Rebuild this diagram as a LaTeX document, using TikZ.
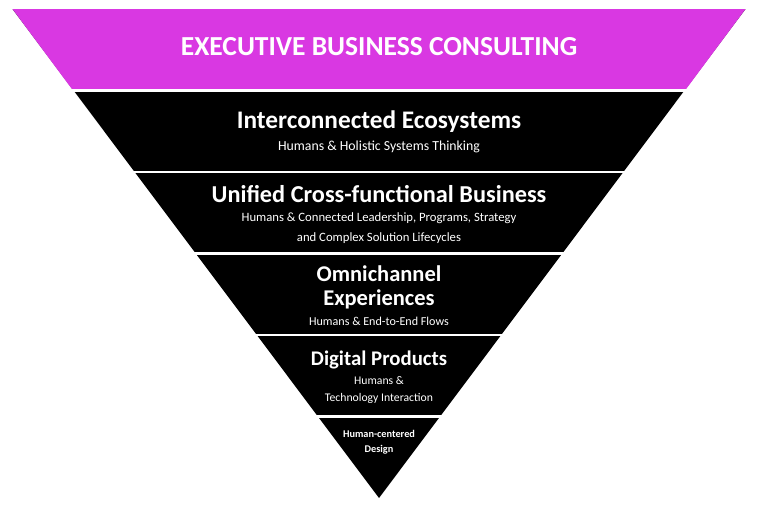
\documentclass[tikz,border=0pt]{standalone}
\usepackage{fontspec}
\setmainfont{Carlito}
\definecolor{topmag}{RGB}{217,56,226}
\begin{document}
\begin{tikzpicture}[x=1pt,y=-1pt,
  txt/.style={text=white,align=center,inner sep=0pt},
  sep/.style={white,line width=2.2pt}]
\useasboundingbox (0,0) rectangle (759,506);
% whole triangle
\fill[black] (12.5,9) -- (745.5,9) -- (379,498) -- cycle;
% top band
\fill[topmag] (12.5,9) -- (745.5,9) -- (685,90.5) -- (73,90.5) -- cycle;
% separators
\foreach \yy in {90.5,172,253.5,335,416.5}
  \draw[sep] (0,\yy) -- (759,\yy);
% texts
\node[txt,font=\bfseries\fontsize{27.5}{30}\selectfont] (t0) at (379,47) {EXECUTIVE BUSINESS CONSULTING};
\node[txt,font=\bfseries\fontsize{25.3}{28}\selectfont] (t1) at (379,122) {Interconnected Ecosystems};
\node[txt,font=\fontsize{13.8}{20}\selectfont] (s1) at (379,147) {Humans \& Holistic Systems Thinking};
\node[txt,font=\bfseries\fontsize{24.3}{27}\selectfont] (t2) at (379,194) {Unified Cross-functional Business};
\node[txt,font=\fontsize{12.7}{20}\selectfont] (s2) at (379,228) {Humans \& Connected Leadership, Programs, Strategy\\and Complex Solution Lifecycles};
\node[txt,font=\bfseries\fontsize{22.5}{24}\selectfont] (t3) at (379,287) {Omnichannel\\Experiences};
\node[txt,font=\fontsize{12.1}{20}\selectfont] (s3) at (379,321) {Humans \& End-to-End Flows};
\node[txt,font=\bfseries\fontsize{20.8}{24}\selectfont] (t4) at (379,360) {Digital Products};
\node[txt,font=\fontsize{11.7}{17}\selectfont] (s4) at (379,390.5) {Humans \&\\Technology Interaction};
\node[txt,font=\bfseries\fontsize{10.3}{15}\selectfont] (t5) at (379,442.5) {Human-centered\\Design};
\end{tikzpicture}
\end{document}
